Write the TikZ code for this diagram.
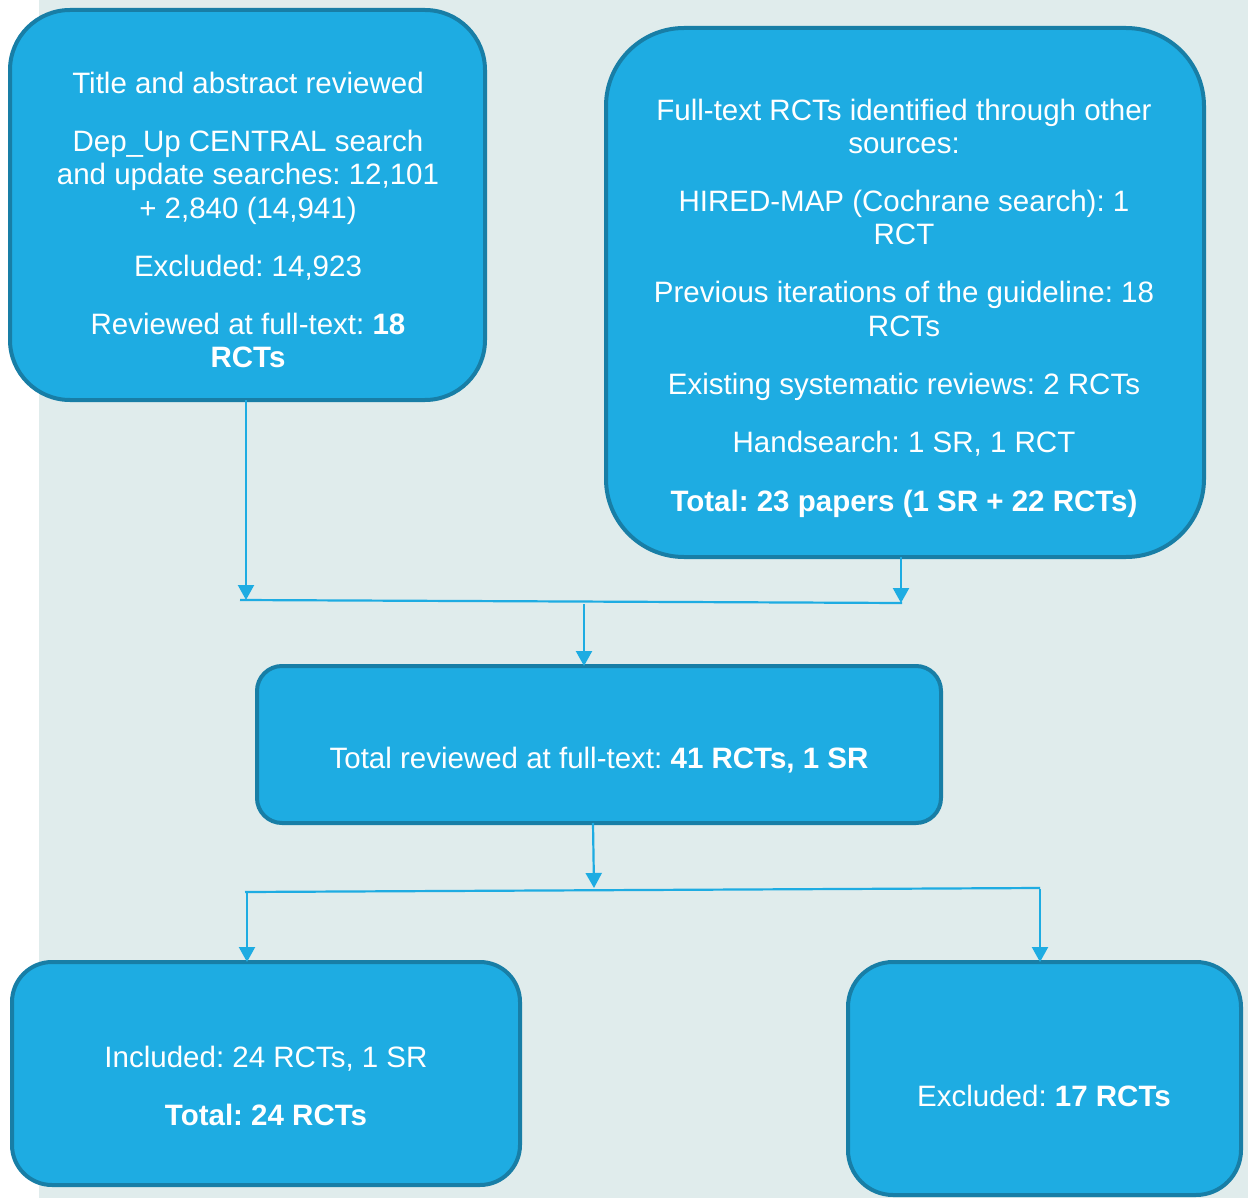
\documentclass[tikz,border=0pt]{standalone}
\usepackage{fontspec}
\setmainfont{Liberation Sans}
\usetikzlibrary{arrows.meta}
\definecolor{bg}{RGB}{224,236,236}
\definecolor{boxfill}{RGB}{30,172,226}
\definecolor{boxedge}{RGB}{24,126,166}
\definecolor{arrowc}{RGB}{30,172,226}
\frenchspacing
\begin{document}
\begin{tikzpicture}[x=1pt,y=-1pt,
  box/.style={draw=boxedge, line width=4pt, fill=boxfill, inner sep=0pt, outer sep=0pt},
  txt/.style={text=white, align=center, inner sep=0pt, font=\fontsize{29.5}{33.6}\selectfont\frenchspacing},
  arr/.style={draw=arrowc, line width=2.2pt, -{Triangle[width=16pt,length=15pt]}},
  ln/.style={draw=arrowc, line width=2.2pt}]
\useasboundingbox (0,0) rectangle (1248,1198);
\fill[white] (0,0) rectangle (1248,1198);
\fill[bg] (39,0) rectangle (1248,1198);

% boxes
\node[box, rounded corners=60pt, minimum width=475pt, minimum height=390pt] (A) at (247.5,205) {};
\node[box, rounded corners=78pt, minimum width=598pt, minimum height=529pt] (B) at (905,292.5) {};
\node[box, rounded corners=25pt, minimum width=684pt, minimum height=157pt] (C) at (599,744.5) {};
\node[box, rounded corners=40pt, minimum width=508pt, minimum height=223pt] (D) at (266,1073.5) {};
\node[box, rounded corners=45pt, minimum width=393pt, minimum height=233pt] (E) at (1044.5,1078.5) {};

% texts
\node[txt, anchor=north] (At) at (248,71.5) {Title and abstract reviewed\\[24.4pt]
Dep\_Up CENTRAL search\\and update searches: 12,101\\+ 2,840 (14,941)\\[24.4pt]
Excluded: 14,923\\[24.4pt]
Reviewed at full-text: \textbf{18}\\\textbf{RCTs}};
\node[txt, anchor=north] (Bt) at (904,98.5) {Full-text RCTs identified through other\\sources:\\[24pt]
HIRED-MAP (Cochrane search): 1\\RCT\\[24.4pt]
Previous iterations of the guideline: 18\\RCTs\\[24.4pt]
Existing systematic reviews: 2 RCTs\\[24.4pt]
Handsearch: 1 SR, 1 RCT\\[25.4pt]
\textbf{Total: 23 papers (1 SR + 22 RCTs)}};
\node[txt, anchor=base] (Ct) at (599,768) {Total reviewed at full-text: \textbf{41 RCTs, 1 SR}};
\node[txt, anchor=north] (Dt) at (266,1045.5) {Included: 24 RCTs, 1 SR\\[25pt]\textbf{Total: 24 RCTs}};
\node[txt, anchor=base] (Et) at (1044,1106) {Excluded: \textbf{17 RCTs}};

% junction coordinates
\coordinate (h1) at (240,600);
\coordinate (h2) at (902,603);
\coordinate (jA) at (246,600);
\coordinate (jB) at (901,603);
\coordinate (jC) at (584,604);
\coordinate (k1) at (245,892);
\coordinate (k2) at (1040,888);
\coordinate (kC) at (594,888);
\coordinate (kD) at (247,893);
\coordinate (kE) at (1040,889);

% connectors
\draw[arr] (A.south -| jA) -- (jA);
\draw[arr] (B.south -| jB) -- (jB);
\draw[ln] (h1) -- (h2);
\draw[arr] (jC) -- (jC |- C.north);
\draw[arr] (C.south -| kC) ++(-1,0) -- (kC);
\draw[ln] (k1) -- (k2);
\draw[arr] (kD) -- (kD |- D.north);
\draw[arr] (kE) -- (kE |- E.north);
\end{tikzpicture}
\end{document}
